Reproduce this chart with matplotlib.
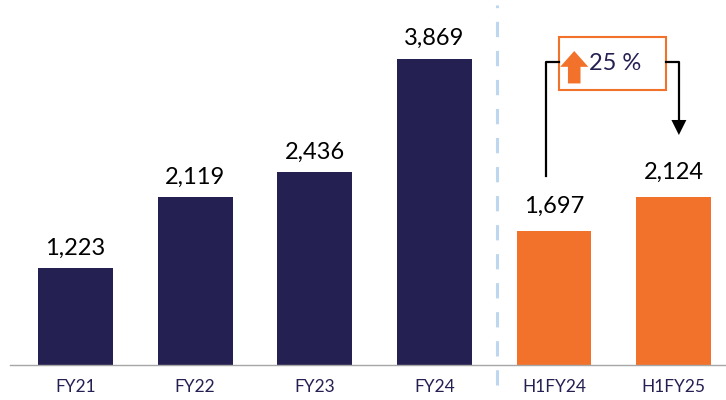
import matplotlib
matplotlib.use('Agg')
from matplotlib import pyplot as plt
from matplotlib import rcParams
from matplotlib.patches import Rectangle, FancyArrow

rcParams['font.family'] = ['Lato', 'DejaVu Sans']

years = ['FY21', 'FY22', 'FY23', 'FY24']
year_vals = [1223, 2119, 2436, 3869]
halves = ['H1FY24', 'H1FY25']
half_vals = [1697, 2124]
growth = '25 %'

navy = '#252052'
orange = '#f2722c'

fig = plt.figure(figsize=(7.26, 4.0), dpi=100)
ax = fig.add_axes([10/726, 35/400, 716/726, 365/400])

x_years = list(range(len(years)))
x_halves = [len(years) + i for i in range(len(halves))]
ax.bar(x_years, year_vals, width=0.625, color=navy)
ax.bar(x_halves, half_vals, width=0.625, color=orange)

for x, v in zip(x_years, year_vals):
    ax.annotate(f'{v:,}', (x, v), xytext=(0, 10), textcoords='offset points',
                ha='center', va='baseline', fontsize=17, color='black')
for x, v in zip(x_halves, half_vals):
    ax.annotate(f'{v:,}', (x, v), xytext=(0, 13), textcoords='offset points',
                ha='center', va='baseline', fontsize=17, color='black')

ax.set_xlim(-0.548, 5.439)
ax.set_ylim(0, 4615)
ax.set_xticks(x_years + x_halves)
ax.set_xticklabels(years + halves, fontsize=12.5, color=navy)
ax.tick_params(axis='x', length=0, pad=10)
ax.set_yticks([])
for s in ['top', 'right', 'left']:
    ax.spines[s].set_visible(False)
ax.spines['bottom'].set_color('#a6a6a6')
ax.spines['bottom'].set_linewidth(1)

# separator between yearly and half-year
ax.plot([3.52, 3.52], [-0.055, 0.986], transform=ax.get_xaxis_transform(),
        color='#bdd7ee', lw=2.2, linestyle=(0, (5, 4.5)), clip_on=False)

# growth bracket
xl, xr = 3.931, 5.045
ytop = 3830
ax.plot([xl, xl, 4.042], [2389, ytop, ytop], color='black', lw=1.6)
ax.plot([4.937, xr, xr], [ytop, ytop, 3090], color='black', lw=1.6)
ax.add_patch(FancyArrow(xr, 3100, 0, -192, width=0.001, head_width=0.125,
                        head_length=190, length_includes_head=True,
                        color='black', lw=0))

ax.add_patch(Rectangle((4.042, 3477), 0.895, 670, facecolor='white',
                       edgecolor=orange, lw=1.5))
ax.add_patch(FancyArrow(4.17, 3560, 0, 410, width=0.105, head_width=0.235,
                        head_length=200, length_includes_head=True,
                        color=orange, lw=0))
ax.text(4.29, 3812, growth, fontsize=17, color=navy, ha='left', va='center')

fig.savefig('out.png', dpi=100)
